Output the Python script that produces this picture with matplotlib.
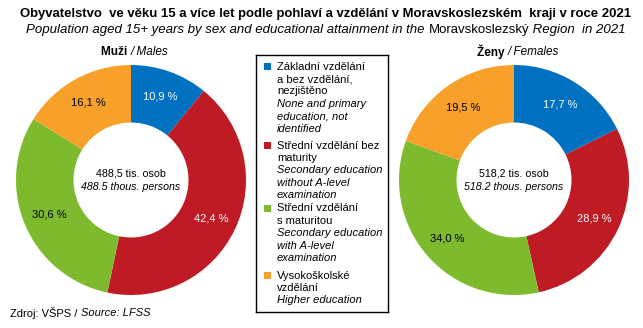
import matplotlib
matplotlib.use('Agg')
import matplotlib.pyplot as plt
from matplotlib.patches import Rectangle
from matplotlib import font_manager

plt.rcParams['font.family'] = ['Liberation Sans', 'DejaVu Sans']

# data
categories_cz = ['Základní vzdělání\na bez vzdělání,\nnezjištěno',
                 'Střední vzdělání bez\nmaturity',
                 'Střední vzdělání\ns maturitou',
                 'Vysokoškolské\nvzdělání']
categories_en = ['None and primary\neducation, not\nidentified',
                 'Secondary education\nwithout A-level\nexamination',
                 'Secondary education\nwith A-level\nexamination',
                 'Higher education']
males = [10.9, 42.4, 30.6, 16.1]
females = [17.7, 28.9, 34.0, 19.5]
total_males = 488.5
total_females = 518.2
colors = ['#0070C0', '#BE1B25', '#7EBA2E', '#F7A12A']
label_colors = ['white', 'white', 'black', 'black']

title = 'Obyvatelstvo  ve věku 15 a více let podle pohlaví a vzdělání v Moravskoslezském  kraji v roce 2021'

W, H = 643, 328
fig = plt.figure(figsize=(W/100, H/100), dpi=100)

names = set(f.name for f in font_manager.fontManager.ttflist)
narrow = 'Liberation Sans'
for cand in ['Liberation Sans Narrow', 'Arial Narrow', 'DejaVu Sans Condensed']:
    if cand in names:
        narrow = cand
        break

def px_axes(cx, cy, r):
    return fig.add_axes([(cx-r)/W, (H-cy-r)/H, 2*r/W, 2*r/H])

def cz(x):
    return ('%.1f' % x).replace('.', ',')

def donut(cx, cy, vals, total):
    ax = px_axes(cx, cy, 115)
    labs = [cz(v) + ' %' for v in vals]
    wedges, texts = ax.pie(vals, colors=colors, startangle=90, counterclock=False,
                           labels=labs, labeldistance=0.77,
                           wedgeprops=dict(width=0.5, linewidth=0))
    for t, c in zip(texts, label_colors):
        t.set_ha('center')
        t.set_va('center')
        t.set_color(c)
        t.set_fontsize(8)
    ax.set_xlim(-1, 1)
    ax.set_ylim(-1, 1)
    ax.text(0, 0.06, cz(total) + ' tis. osob', ha='center', va='center', fontsize=7.7)
    ax.text(0, -0.06, ('%.1f' % total) + ' thous. persons', ha='center', va='center',
            fontsize=7.7, style='italic')
    return ax

donut(131, 180, males, total_males)
donut(514, 180, females, total_females)

def run(parts, x_center, y, size):
    # parts: list of (text, kwargs); placed side by side, centred on x_center
    ts = [fig.text(0, 1-y/H, s, ha='left', va='center', fontsize=size, **kw) for s, kw in parts]
    fig.canvas.draw()
    ws = [t.get_window_extent().width for t in ts]
    x = x_center - sum(ws)/2
    for t, w in zip(ts, ws):
        t.set_x(x/W)
        x += w
    return sum(ws)

# title, fitted to the reference width
tt = fig.text(326/W, 1-14/H, title, ha='center', va='center', fontsize=10.5,
              fontweight='bold', family=[narrow, 'Liberation Sans'])
fig.canvas.draw()
w = tt.get_window_extent().width
tt.set_fontsize(10.5 * min(1.0, 620/w))

# subtitle
run([('Population aged 15+ years by sex and educational attainment in the ', dict(style='italic')),
     ('Moravskoslezský', {}),
     (' Region  in 2021', dict(style='italic'))], 326, 30, 9.5)

# panel headings
for x, a, b in [(135, 'Muži', 'Males'), (518, 'Ženy', 'Females')]:
    run([(a + ' ', dict(fontweight='bold', family=[narrow, 'Liberation Sans'])),
         ('/ ' + b, dict(style='italic', family=[narrow, 'Liberation Sans']))], x, 52, 8.5)

# legend box
lax = fig.add_axes([256/W, (H-312)/H, 132/W, 257/H])
lax.set_xlim(256, 388)
lax.set_ylim(312, 55)
lax.set_xticks([])
lax.set_yticks([])
for s in lax.spines.values():
    s.set_linewidth(1.0)
    s.set_color('black')

line_h = 12.4
starts = [66.7, 145.7, 208.5, 275.7]
for i in range(4):
    y = starts[i]
    lax.add_patch(Rectangle((264, y-3.5), 7, 7, color=colors[i], linewidth=0))
    n_cz = categories_cz[i].count('\n') + 1
    for j, ln in enumerate(categories_cz[i].split('\n')):
        lax.text(277, y + j*line_h, ln, ha='left', va='center', fontsize=8)
    for j, ln in enumerate(categories_en[i].split('\n')):
        lax.text(277, y + (n_cz + j)*line_h, ln, ha='left', va='center', fontsize=8,
                 style='italic')

# source
s1 = fig.text(10/W, 1-313/H, 'Zdroj: VŠPS / ', ha='left', va='center', fontsize=8)
fig.canvas.draw()
fig.text(s1.get_window_extent().x1/W, 1-313/H, 'Source: LFSS', ha='left', va='center',
         fontsize=8, style='italic')

fig.savefig('out.png', dpi=100)
